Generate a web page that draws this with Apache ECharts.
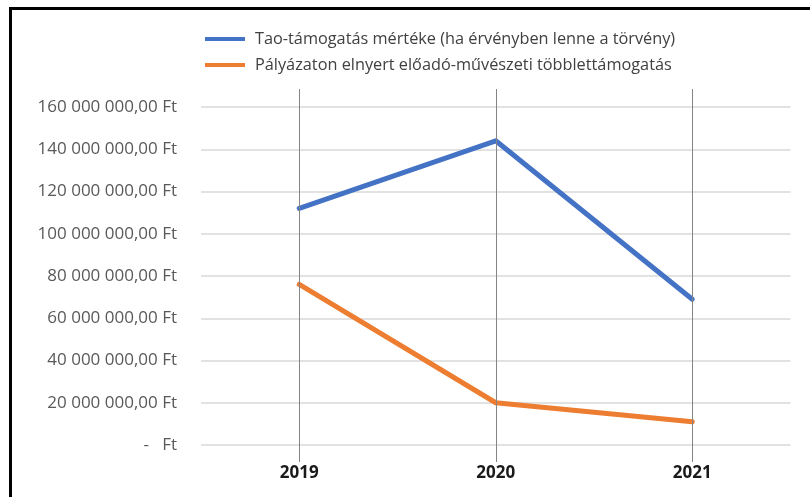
<!DOCTYPE html>
<html>
<head>
<meta charset="utf-8">
<script src="https://cdn.jsdelivr.net/npm/echarts@6/dist/echarts.min.js"></script>
<style>
html,body{margin:0;padding:0;background:#fff;}
#chart{width:810px;height:497px;}
</style>
</head>
<body>
<div id="chart"></div>
<script>
const categories = ['2019', '2020', '2021'];
const seriesNames = [
  'Tao-támogatás mértéke (ha érvényben lenne a törvény)',
  'Pályázaton elnyert előadó-művészeti többlettámogatás'
];
const taoValues = [112000000, 144000000, 69000000];
const palyazatValues = [76000000, 20000000, 11000000];
const yTickLabels = [
  '-   Ft', '20 000 000,00 Ft', '40 000 000,00 Ft', '60 000 000,00 Ft',
  '80 000 000,00 Ft', '100 000 000,00 Ft', '120 000 000,00 Ft',
  '140 000 000,00 Ft', '160 000 000,00 Ft'
];
const yStep = 20000000;

const FONT = '"Open Sans", sans-serif';
const chart = echarts.init(document.getElementById('chart'));
chart.setOption({
  animation: false,
  backgroundColor: '#ffffff',
  textStyle: { fontFamily: FONT },
  graphic: [
    { type: 'rect', left: 9, top: 7, shape: { width: 3, height: 490 }, style: { fill: '#000' }, silent: true },
    { type: 'rect', left: 9, top: 7, shape: { width: 801, height: 3 }, style: { fill: '#000' }, silent: true }
  ],
  legend: {
    data: seriesNames,
    orient: 'vertical',
    left: 200,
    top: 26,
    icon: 'rect',
    itemWidth: 40,
    itemHeight: 4,
    itemGap: 10,
    textStyle: { fontSize: 16.3, color: '#404040', fontFamily: FONT, padding: [0, 0, 0, 5] }
  },
  grid: [
    { left: 201, right: 19.5, top: 107, bottom: 52 },
    { left: 201, right: 19.5, top: 89, bottom: 35 }
  ],
  xAxis: [
    {
      type: 'category', gridIndex: 0, data: categories, boundaryGap: true,
      axisLine: { show: false }, axisTick: { show: false },
      splitLine: { show: false },
      axisLabel: { margin: 20, fontSize: 17, fontWeight: 'bold', color: '#1a1a1a', fontFamily: FONT }
    },
    {
      type: 'category', gridIndex: 1, data: categories, boundaryGap: true, show: false
    }
  ],
  yAxis: [
    {
      type: 'value', gridIndex: 0, min: 0, max: 160000000, interval: yStep,
      axisLine: { show: false }, axisTick: { show: false },
      splitLine: { show: true, lineStyle: { color: '#d9d9d9', width: 1.5 } },
      axisLabel: {
        margin: 24, fontSize: 17, color: '#595959', fontFamily: FONT,
        formatter: (v) => yTickLabels[Math.round(v / yStep)]
      }
    },
    { type: 'value', gridIndex: 1, min: 0, max: 1, show: false }
  ],
  series: [
    {
      type: 'line', xAxisIndex: 1, yAxisIndex: 1, z: 1,
      data: [0, 0, 0], symbol: 'none', lineStyle: { opacity: 0 }, silent: true,
      markLine: {
        silent: true, symbol: 'none', animation: false,
        label: { show: false },
        lineStyle: { color: '#858585', width: 1, type: 'solid' },
        data: categories.map(c => ({ xAxis: c }))
      }
    },
    {
      name: seriesNames[0], type: 'line', xAxisIndex: 0, yAxisIndex: 0, z: 3,
      data: taoValues, symbol: 'none',
      itemStyle: { color: '#4472C4' },
      lineStyle: { color: '#4472C4', width: 5, join: 'round', cap: 'round' }
    },
    {
      name: seriesNames[1], type: 'line', xAxisIndex: 0, yAxisIndex: 0, z: 3,
      data: palyazatValues, symbol: 'none',
      itemStyle: { color: '#ED7D31' },
      lineStyle: { color: '#ED7D31', width: 5, join: 'round', cap: 'round' }
    }
  ]
});
</script>
</body>
</html>
